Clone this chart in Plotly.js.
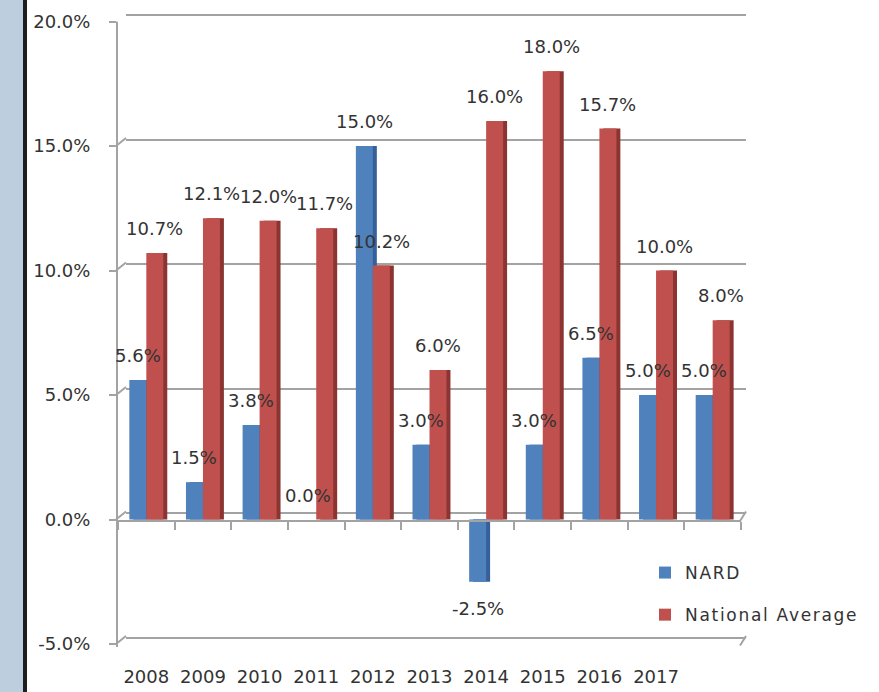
<!DOCTYPE html>
<html>
<head>
<meta charset="utf-8">
<script src="https://cdn.plot.ly/plotly-3.0.1.min.js"></script>
<style>
  html, body { margin: 0; padding: 0; background: #fff; }
  #chart { width: 879px; height: 692px; }
  .legendtext { letter-spacing: 1.7px; }
</style>
</head>
<body>
<div id="chart"></div>
<script>
// ---- data ----
// 11 bar groups; the source labels only the first ten (2008-2017), the last group is unlabeled
const groups = ['2008', '2009', '2010', '2011', '2012', '2013', '2014', '2015', '2016', '2017', ' '];
const nard = [5.6, 1.5, 3.8, 0.0, 15.0, 3.0, -2.5, 3.0, 6.5, 5.0, 5.0];
const nationalAverage = [10.7, 12.1, 12.0, 11.7, 10.2, 6.0, 16.0, 18.0, 15.7, 10.0, 8.0];
const seriesNames = ['NARD', 'National Average'];
const yTicks = [-5, 0, 5, 10, 15, 20];
const yTickText = yTicks.map(v => v.toFixed(1) + '%');

// ---- styling ----
const W = 879, H = 692;
const FONT = 'DejaVu Sans, Verdana, sans-serif';
const TXT = '#333333';
const GRID = '#a3a3a3';
const colors = ['#4F81BD', '#C0504D'];
const sideColors = ['#35609A', '#8C3431'];
const barW = 0.30;         // bar width in category units
const offsets = [-0.30, 0.0];
const sideShift = 0.07;    // fake 3-D side face
const depth = 0.32;        // front-to-back wall rise, in value units (3-D look)

const fx = px => px / W;
const fy = px => 1 - px / H;

const series = [nard, nationalAverage];
const traces = [
  // empty trace so that the back-wall subplot (gridlines) is created
  { type: 'scatter', x: [], y: [], xaxis: 'x', yaxis: 'y', showlegend: false, hoverinfo: 'skip' }
];
series.forEach((vals, k) => {
  traces.push({
    type: 'bar', x: groups, y: vals, xaxis: 'x2', yaxis: 'y2',
    offset: offsets[k] + sideShift, width: barW,
    marker: { color: sideColors[k], line: { width: 0 } },
    showlegend: false, legendgroup: 'g' + k, hoverinfo: 'skip'
  });
  traces.push({
    type: 'bar', x: groups, y: vals, xaxis: 'x2', yaxis: 'y2',
    name: seriesNames[k],
    offset: offsets[k], width: barW,
    marker: { color: colors[k], line: { width: 0 } },
    legendgroup: 'g' + k, hoverinfo: 'skip'
  });
});

const annotations = [];
series.forEach((vals, k) => {
  vals.forEach((v, i) => {
    annotations.push({
      xref: 'x2', yref: 'y2',
      x: i + offsets[k] + barW / 2, y: v,
      text: v.toFixed(1) + '%',
      showarrow: false,
      xanchor: 'center',
      yanchor: v < 0 ? 'top' : 'bottom',
      yshift: v < 0 ? -14 : 12,
      font: { family: FONT, size: 18, color: TXT }
    });
  });
});

// 3-D wall connectors (decoration): from the front axis ticks to the back-wall gridlines
const shapes = [
  { type: 'rect', xref: 'paper', yref: 'paper', x0: 0, x1: fx(23), y0: 0, y1: 1,
    fillcolor: '#BDCFDE', line: { width: 0 }, layer: 'below' },
  { type: 'rect', xref: 'paper', yref: 'paper', x0: fx(23), x1: fx(27), y0: 0, y1: 1,
    fillcolor: '#1e1e1e', line: { width: 0 }, layer: 'below' }
];
yTicks.forEach(v => {
  shapes.push({ type: 'line', xref: 'paper', yref: 'y2', x0: fx(116), x1: fx(126),
    y0: v, y1: v + depth, line: { color: GRID, width: 2 }, layer: 'below' });
});
[0, -5].forEach(v => {
  shapes.push({ type: 'line', xref: 'paper', yref: 'y2', x0: fx(740), x1: fx(746),
    y0: v - 0.06, y1: v + depth, line: { color: GRID, width: 2 }, layer: 'below' });
});

const layout = {
  width: W, height: H,
  margin: { l: 0, r: 0, t: 0, b: 0 },
  paper_bgcolor: '#ffffff',
  plot_bgcolor: 'rgba(0,0,0,0)',
  barmode: 'overlay',
  showlegend: true,
  font: { family: FONT, size: 18, color: TXT },
  // back wall (gridlines only)
  xaxis: {
    domain: [fx(126), fx(746)], anchor: 'y', range: [0, 1],
    showticklabels: false, ticks: '', showgrid: false, zeroline: false,
    showline: false, fixedrange: true
  },
  yaxis: {
    domain: [fy(648), fy(12)], anchor: 'x', range: [-5.42, 20.12],
    tickmode: 'array', tickvals: yTicks, showticklabels: false, ticks: '',
    showgrid: true, gridcolor: GRID, gridwidth: 2, zeroline: false, showline: false,
    fixedrange: true
  },
  // front: bars, category axis at zero, value axis on the left
  xaxis2: {
    type: 'category', domain: [fx(118), fx(741)], anchor: 'free', position: fy(521),
    side: 'bottom', range: [-0.5, 10.5], tickson: 'boundaries',
    ticks: 'outside', ticklen: 8, tickwidth: 2, tickcolor: GRID,
    showline: true, linecolor: GRID, linewidth: 2, showgrid: false, zeroline: false,
    tickfont: { family: FONT, size: 18, color: TXT }, ticklabelstandoff: 139,
    fixedrange: true
  },
  yaxis2: {
    domain: [fy(647), fy(21.5)], anchor: 'x2', range: [-5.12, 20],
    tickmode: 'array', tickvals: yTicks, ticktext: yTickText,
    ticks: 'outside', ticklen: 7, tickwidth: 2, tickcolor: GRID,
    showline: true, linecolor: GRID, linewidth: 2, mirror: false,
    showgrid: false, zeroline: false,
    tickfont: { family: FONT, size: 18, color: TXT }, ticklabelstandoff: 15,
    fixedrange: true
  },
  // bottom front edge of the floor at -5%
  xaxis3: {
    overlaying: 'x2', anchor: 'y2', side: 'bottom', range: [0, 1],
    showticklabels: false, ticks: '', showgrid: false, zeroline: false,
    showline: true, linecolor: GRID, linewidth: 2, fixedrange: true
  },
  legend: {
    x: fx(645), y: fy(555), xanchor: 'left', yanchor: 'top',
    traceorder: 'grouped', tracegroupgap: 17,
    bgcolor: 'rgba(0,0,0,0)',
    font: { family: FONT, size: 17, color: TXT }
  },
  annotations: annotations,
  shapes: shapes
};

Plotly.newPlot('chart', traces, layout, { staticPlot: true, displayModeBar: false });
</script>
</body>
</html>
